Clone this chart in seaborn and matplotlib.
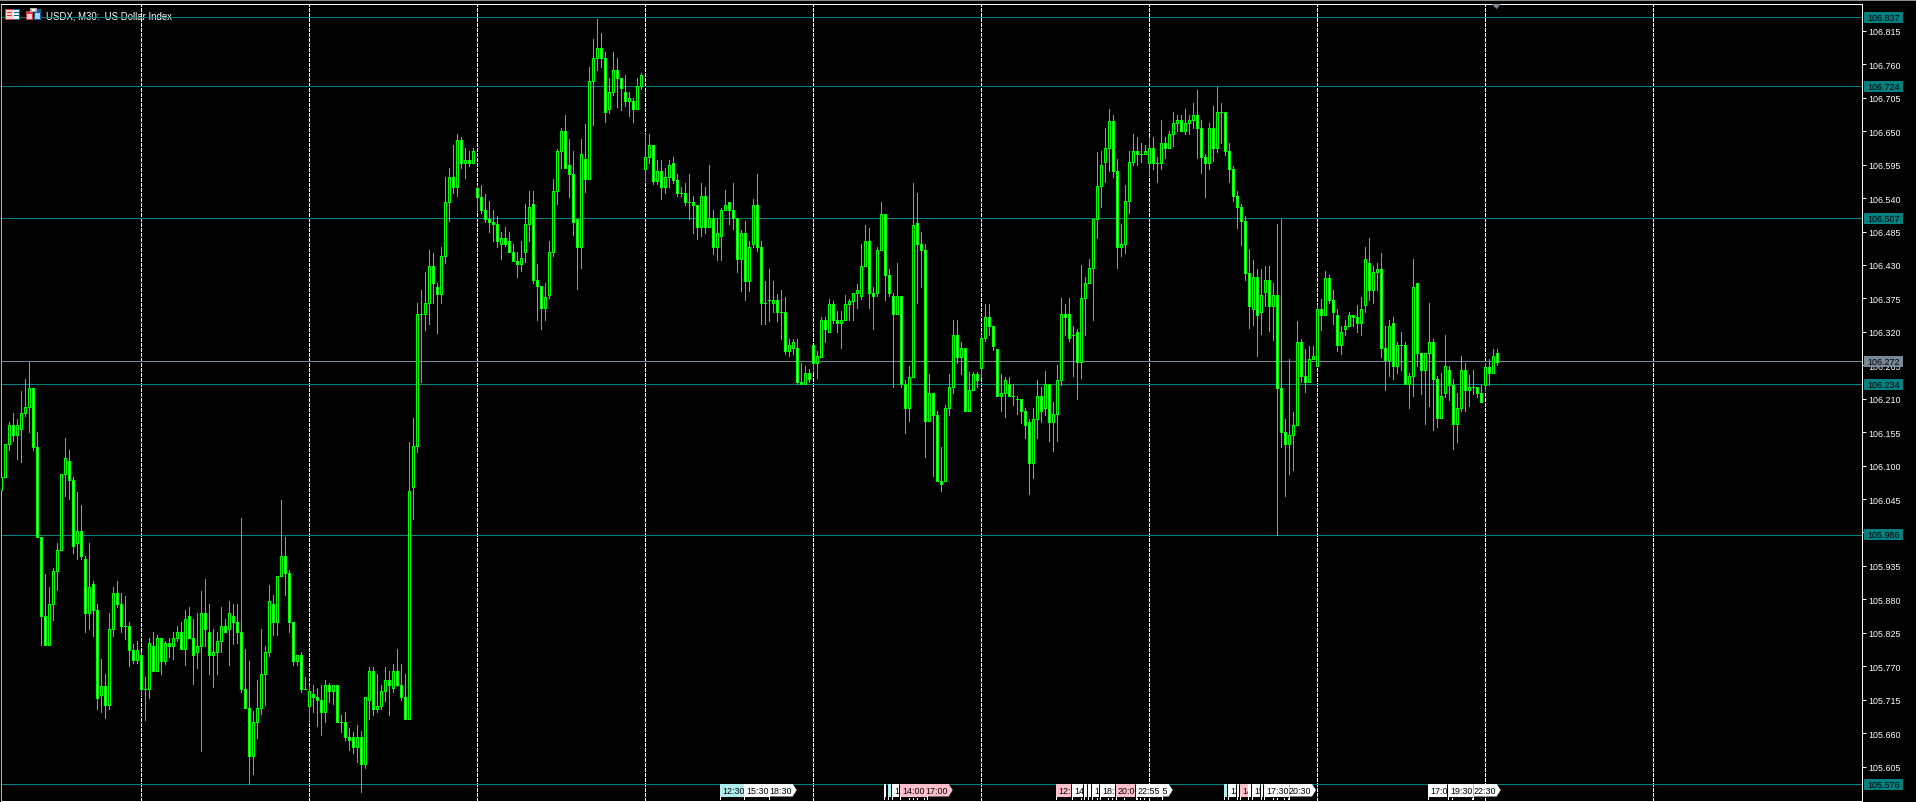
import numpy as np
import pandas as pd
import matplotlib
matplotlib.use('Agg')
import matplotlib.pyplot as plt
from matplotlib.patches import Polygon, Rectangle
from matplotlib.transforms import Affine2D, Bbox
import seaborn as sns

# USDX M30 candles
open_prices = [
    106.060,106.082,106.136,106.166,106.151,106.161,106.187,106.197,106.227,106.131,
    105.982,105.852,105.805,105.872,105.926,105.962,106.087,106.107,106.077,105.972,
    105.992,105.947,105.857,105.906,105.862,105.722,105.737,105.707,105.832,105.891,
    105.872,105.837,105.837,105.796,105.781,105.788,105.732,105.732,105.803,105.763,
    105.817,105.778,105.808,105.803,105.817,105.827,105.798,105.852,105.817,105.793,
    105.803,105.857,105.827,105.788,105.793,105.812,105.837,105.832,105.852,105.842,
    105.827,105.732,105.702,105.622,105.678,105.702,105.758,105.793,105.873,105.842,
    105.918,105.952,105.923,105.842,105.778,105.788,105.732,105.704,105.724,105.719,
    105.714,105.694,105.739,105.729,105.739,105.678,105.678,105.653,105.653,105.638,
    105.653,105.609,105.714,105.763,105.699,105.704,105.729,105.748,105.734,105.763,
    105.739,105.719,105.684,106.064,106.133,106.349,106.349,106.368,106.429,106.393,
    106.383,106.444,106.534,106.574,106.559,106.635,106.598,106.603,106.598,106.556,
    106.541,106.521,106.506,106.501,106.497,106.465,106.475,106.470,106.451,106.436,
    106.431,106.451,106.497,106.531,106.406,106.396,106.360,106.381,106.451,106.551,
    106.617,106.651,106.595,106.580,106.506,106.460,106.605,106.571,106.732,106.771,
    106.786,106.771,106.686,106.715,106.751,106.737,106.715,106.700,106.700,106.686,
    106.725,106.588,106.608,106.628,106.568,106.584,106.559,106.574,106.598,106.569,
    106.549,106.549,106.534,106.534,106.529,106.493,106.544,106.493,106.508,106.459,
    106.478,106.520,106.534,106.520,106.508,106.439,106.483,106.404,106.464,106.529,
    106.459,106.368,106.373,106.368,106.373,106.353,106.353,106.289,106.294,106.294,
    106.238,106.234,106.253,106.299,106.269,106.279,106.340,106.319,106.365,106.340,
    106.335,106.340,106.365,106.370,106.384,106.379,106.429,106.470,106.384,106.384,
    106.455,106.514,106.414,106.379,106.350,106.379,106.235,106.194,106.245,106.499,
    106.465,106.455,106.174,106.220,106.184,106.074,106.074,106.194,106.230,106.314,
    106.279,106.294,106.189,106.225,106.250,106.261,106.310,106.345,106.330,106.291,
    106.215,106.220,106.235,106.215,106.210,106.210,106.190,106.171,106.105,106.176,
    106.215,106.195,106.235,106.171,106.185,106.240,106.350,106.350,106.315,106.320,
    106.271,106.376,106.401,106.425,106.505,106.560,106.600,106.622,106.666,106.585,
    106.460,106.465,106.536,106.600,106.617,106.612,106.612,106.597,106.622,106.597,
    106.597,106.631,106.622,106.646,106.663,106.668,106.651,106.663,106.668,106.677,
    106.656,106.607,106.597,106.656,106.622,106.682,106.682,106.617,106.587,106.543,
    106.526,106.502,106.416,106.357,106.411,106.352,106.386,106.406,106.362,106.381,
    106.227,106.156,106.136,106.151,106.166,106.303,106.247,106.237,106.276,106.263,
    106.358,106.348,106.409,106.373,106.348,106.299,106.324,106.329,106.348,106.344,
    106.334,106.364,106.434,106.388,106.419,106.424,106.294,106.273,106.334,106.263,
    106.299,106.299,106.235,106.248,106.400,106.285,106.258,106.285,106.304,106.243,
    106.179,106.219,106.258,106.233,106.169,106.194,106.258,106.224,106.229,106.229,
    106.219,106.232,106.262,106.252,106.286,
]
close_prices = [
    106.082,106.136,106.166,106.151,106.166,106.187,106.197,106.227,106.131,105.982,
    105.852,105.805,105.872,105.926,105.962,106.087,106.112,106.077,105.967,105.992,
    105.952,105.857,105.901,105.862,105.717,105.737,105.707,105.832,105.891,105.872,
    105.837,105.837,105.796,105.781,105.796,105.732,105.732,105.808,105.763,105.817,
    105.778,105.808,105.803,105.817,105.827,105.798,105.847,105.817,105.788,105.803,
    105.857,105.832,105.788,105.793,105.812,105.837,105.827,105.857,105.842,105.827,
    105.732,105.702,105.622,105.678,105.702,105.758,105.793,105.878,105.842,105.918,
    105.952,105.923,105.842,105.778,105.788,105.732,105.732,105.729,105.719,105.714,
    105.694,105.739,105.729,105.739,105.678,105.678,105.653,105.648,105.638,105.653,
    105.609,105.719,105.763,105.699,105.704,105.729,105.748,105.739,105.763,105.739,
    105.719,105.684,106.059,106.133,106.349,106.349,106.368,106.429,106.400,106.383,
    106.444,106.534,106.574,106.559,106.635,106.598,106.603,106.598,106.618,106.541,
    106.521,106.506,106.501,106.497,106.470,106.475,106.465,106.451,106.436,106.431,
    106.441,106.497,106.526,106.406,106.396,106.360,106.377,106.451,106.551,106.617,
    106.651,106.590,106.580,106.501,106.460,106.612,106.571,106.732,106.771,106.786,
    106.771,106.681,106.715,106.751,106.737,106.721,106.700,106.705,106.686,106.725,
    106.742,106.608,106.628,106.568,106.584,106.559,106.574,106.594,106.569,106.549,
    106.549,106.534,106.534,106.529,106.493,106.544,106.493,106.508,106.459,106.483,
    106.520,106.529,106.520,106.508,106.439,106.483,106.404,106.459,106.529,106.459,
    106.368,106.368,106.373,106.373,106.353,106.353,106.289,106.299,106.304,106.238,
    106.234,106.253,106.243,106.269,106.280,106.340,106.325,106.365,106.340,106.335,
    106.340,106.365,106.370,106.384,106.389,106.429,106.470,106.384,106.379,106.455,
    106.514,106.414,106.384,106.350,106.379,106.235,106.194,106.245,106.495,106.465,
    106.455,106.174,106.220,106.184,106.074,106.069,106.194,106.230,106.314,106.279,
    106.294,106.189,106.225,106.250,106.240,106.310,106.345,106.330,106.296,106.215,
    106.220,106.240,106.215,106.215,106.210,106.190,106.166,106.105,106.176,106.215,
    106.190,106.235,106.171,106.185,106.240,106.350,106.345,106.310,106.315,106.271,
    106.376,106.401,106.425,106.505,106.560,106.595,106.622,106.666,106.585,106.460,
    106.465,106.536,106.600,106.617,106.612,106.612,106.617,106.622,106.597,106.597,
    106.631,106.622,106.646,106.663,106.668,106.651,106.663,106.668,106.677,106.656,
    106.607,106.597,106.656,106.622,106.682,106.682,106.617,106.587,106.543,106.526,
    106.502,106.416,106.362,106.411,106.347,106.381,106.406,106.362,106.381,106.227,
    106.156,106.136,106.151,106.166,106.303,106.247,106.237,106.276,106.281,106.358,
    106.348,106.409,106.373,106.353,106.299,106.319,106.329,106.348,106.344,106.334,
    106.358,106.439,106.388,106.419,106.424,106.294,106.273,106.329,106.263,106.299,
    106.299,106.235,106.248,106.393,106.285,106.258,106.285,106.304,106.243,106.179,
    106.214,106.263,106.233,106.169,106.194,106.258,106.224,106.229,106.229,106.219,
    106.204,106.262,106.252,106.281,106.271,
]
high_prices = [
    106.082,106.136,106.171,106.187,106.176,106.222,106.242,106.271,106.227,106.156,
    105.982,105.922,105.901,105.931,105.973,106.087,106.146,106.126,106.082,106.056,
    106.036,105.952,105.972,105.911,105.872,105.782,105.757,105.857,105.901,105.911,
    105.891,105.886,105.842,105.806,105.811,105.793,105.753,105.817,105.827,105.822,
    105.817,105.812,105.817,105.827,105.837,105.842,105.862,105.867,105.847,105.857,
    105.894,105.913,105.873,105.832,105.827,105.867,105.847,105.878,105.873,105.873,
    106.013,105.798,105.779,105.697,105.747,105.832,105.803,105.903,105.888,105.918,
    106.043,105.982,105.928,105.842,105.788,105.793,105.753,105.739,105.739,105.734,
    105.739,105.748,105.743,105.739,105.739,105.690,105.694,105.668,105.662,105.673,
    105.663,105.719,105.768,105.768,105.758,105.739,105.768,105.763,105.773,105.798,
    105.773,105.758,106.138,106.179,106.368,106.388,106.419,106.454,106.449,106.400,
    106.459,106.574,106.589,106.628,106.645,106.640,106.623,106.618,106.623,106.561,
    106.561,106.546,106.536,106.521,106.511,106.485,106.492,106.485,106.465,106.451,
    106.470,106.531,106.551,106.551,106.431,106.396,106.401,106.470,106.571,106.621,
    106.656,106.676,106.637,106.617,106.506,106.637,106.661,106.756,106.801,106.835,
    106.811,106.781,106.737,106.781,106.771,106.737,106.742,106.715,106.705,106.737,
    106.746,106.645,106.645,106.628,106.603,106.603,106.589,106.603,106.608,106.579,
    106.559,106.564,106.579,106.544,106.529,106.564,106.559,106.594,106.520,106.508,
    106.524,106.554,106.534,106.564,106.508,106.488,106.503,106.469,106.539,106.579,
    106.469,106.404,106.424,106.404,106.383,106.388,106.378,106.308,106.309,106.309,
    106.269,106.263,106.259,106.299,106.289,106.345,106.345,106.374,106.370,106.355,
    106.355,106.380,106.374,106.384,106.399,106.465,106.495,106.490,106.394,106.460,
    106.534,106.514,106.424,106.384,106.434,106.379,106.240,106.264,106.565,106.549,
    106.485,106.465,106.250,106.220,106.189,106.130,106.199,106.250,106.340,106.340,
    106.304,106.294,106.254,106.254,106.254,106.315,106.365,106.365,106.330,106.291,
    106.250,106.245,106.245,106.235,106.215,106.210,106.195,106.176,106.195,106.240,
    106.230,106.256,106.235,106.205,106.266,106.376,106.365,106.376,106.330,106.325,
    106.430,106.411,106.440,106.505,106.616,106.617,106.656,106.686,106.676,106.605,
    106.497,106.561,106.617,106.646,106.641,106.631,106.627,106.641,106.641,106.607,
    106.668,106.641,106.651,106.682,106.677,106.677,106.687,106.677,106.697,106.717,
    106.668,106.612,106.663,106.692,106.722,106.697,106.682,106.631,106.592,106.552,
    106.531,106.511,106.457,106.438,106.423,106.423,106.428,106.428,106.401,106.497,
    106.505,106.176,106.276,106.188,106.337,106.308,106.292,106.297,106.297,106.364,
    106.374,106.420,106.414,106.388,106.358,106.329,106.339,106.353,106.348,106.364,
    106.378,106.459,106.474,106.429,106.434,106.449,106.329,106.339,106.344,106.304,
    106.319,106.304,106.253,106.439,106.400,106.285,106.285,106.368,106.309,106.248,
    106.253,106.314,106.263,106.243,106.219,106.280,106.269,106.249,106.258,106.229,
    106.234,106.268,106.276,106.291,106.291,
]
low_prices = [
    106.060,106.082,106.126,106.141,106.111,106.106,106.181,106.156,106.126,105.982,
    105.805,105.805,105.805,105.846,105.896,105.962,106.050,106.045,105.957,105.947,
    105.947,105.827,105.832,105.820,105.700,105.695,105.685,105.700,105.820,105.867,
    105.827,105.815,105.771,105.776,105.776,105.722,105.682,105.717,105.763,105.763,
    105.757,105.773,105.786,105.782,105.812,105.798,105.772,105.817,105.741,105.767,
    105.631,105.803,105.757,105.736,105.757,105.793,105.827,105.772,105.806,105.808,
    105.728,105.702,105.576,105.592,105.652,105.692,105.707,105.787,105.822,105.822,
    105.918,105.888,105.827,105.772,105.772,105.727,105.732,105.682,105.694,105.672,
    105.657,105.678,105.712,105.708,105.678,105.662,105.648,105.633,105.628,105.613,
    105.564,105.603,105.683,105.689,105.694,105.699,105.713,105.689,105.727,105.738,
    105.714,105.684,105.684,106.012,106.123,106.238,106.323,106.333,106.368,106.318,
    106.368,106.434,106.503,106.549,106.544,106.589,106.573,106.593,106.598,106.521,
    106.516,106.501,106.485,106.470,106.460,106.440,106.461,106.451,106.436,106.411,
    106.420,106.435,106.470,106.401,106.339,106.324,106.339,106.376,106.445,106.531,
    106.590,106.590,106.541,106.480,106.391,106.425,106.550,106.571,106.660,106.751,
    106.756,106.665,106.680,106.710,106.690,106.685,106.691,106.675,106.665,106.686,
    106.720,106.568,106.598,106.563,106.563,106.539,106.549,106.559,106.564,106.544,
    106.544,106.529,106.506,106.482,106.473,106.478,106.483,106.493,106.448,106.438,
    106.438,106.520,106.497,106.489,106.419,106.387,106.373,106.387,106.459,106.453,
    106.333,106.333,106.338,106.353,106.338,106.308,106.284,106.280,106.284,106.234,
    106.234,106.234,106.238,106.254,106.244,106.279,106.303,106.319,106.334,106.319,
    106.293,106.340,106.339,106.339,106.359,106.374,106.429,106.359,106.324,106.379,
    106.455,106.373,106.379,106.230,106.350,106.230,106.153,106.173,106.245,106.368,
    106.393,106.114,106.174,106.083,106.074,106.059,106.074,106.184,106.220,106.269,
    106.250,106.189,106.189,106.225,106.230,106.245,106.305,106.314,106.290,106.215,
    106.190,106.180,106.215,106.200,106.185,106.170,106.145,106.054,106.080,106.145,
    106.171,106.184,106.140,106.124,106.140,106.233,106.314,106.305,106.248,106.210,
    106.244,106.314,106.401,106.339,106.474,106.526,106.566,106.584,106.575,106.425,
    106.445,106.449,106.515,106.595,106.595,106.600,106.612,106.577,106.587,106.567,
    106.587,106.606,106.622,106.626,106.651,106.651,106.646,106.646,106.656,106.606,
    106.582,106.542,106.587,106.601,106.616,106.630,106.611,106.567,106.535,106.491,
    106.462,106.406,106.327,106.332,106.281,106.317,106.362,106.322,106.307,105.986,
    106.131,106.050,106.087,106.092,106.166,106.237,106.221,106.237,106.276,106.263,
    106.323,106.348,106.368,106.333,106.289,106.284,106.314,106.329,106.329,106.319,
    106.314,106.353,106.373,106.368,106.388,106.279,106.224,106.248,106.242,106.253,
    106.258,106.235,106.194,106.214,106.263,106.218,106.169,106.198,106.159,106.164,
    106.179,106.213,106.208,106.128,106.138,106.189,106.189,106.198,106.218,106.213,
    106.204,106.222,106.232,106.252,106.266,
]

# price axis and drawn levels
tick_values = [106.815, 106.760, 106.705, 106.650, 106.595, 106.540, 106.485, 106.430,
               106.375, 106.320, 106.265, 106.210, 106.155, 106.100, 106.045, 105.990,
               105.935, 105.880, 105.825, 105.770, 105.715, 105.660, 105.605]
level_values = [106.837, 106.724, 106.507, 106.234, 105.986, 105.576]
last_price = 106.272
period_bars = [35, 77, 119, 161, 203, 245, 287, 329, 371, 413]

# time tags along the bottom edge
tab_starts = [720, 744, 769, 884, 888.3, 892.3, 900, 926.7, 1056, 1072.3, 1084.3, 1088.3,
              1092.3, 1100, 1116, 1136, 1161.7, 1224, 1228.3, 1236.7, 1240.3, 1248.3,
              1252.3, 1260.7, 1264, 1289.3, 1428.3, 1448.3, 1473.3]
tab_ends = [744, 769, 796.7, 886, 891, 899.3, 926.7, 952.7, 1071, 1083.3, 1087, 1091,
            1099, 1115, 1135, 1161.7, 1172.7, 1226.7, 1236, 1239.3, 1247.7, 1251,
            1260, 1263.3, 1289.3, 1316, 1447.3, 1473.3, 1500.7]
tab_labels = ['12:30', '15:30', '18:30', '', '', '12:30', '14:00', '17:00', '12:30', '14:30',
              '', '', '16:00', '18:30', '20:00', '22:55', '23:55', '', '13:00', '', '14:30', '',
              '15:30', '', '17:30', '20:30', '17:00', '19:30', '22:30']
tab_colors = ['#afeeee', 'white', 'white', 'white', '#afeeee', 'white', '#ffc0cb', '#ffc0cb',
              '#ffc0cb', 'white', 'white', 'white', 'white', 'white', '#ffc0cb', 'white', 'white',
              '#afeeee', 'white', 'white', '#ffc0cb', 'white', 'white', 'white', 'white', 'white',
              'white', 'white', 'white']
arrow_tabs = [2, 7, 16, 25, 28]
minor_marks = [769, 909, 912.7, 916.7, 924.3, 1080.7, 1096.7, 1108, 1112, 1124, 1136.7, 1140,
               1144, 1273.3, 1276.7, 1284.3, 1288.3, 1452.3, 1472.3]

W, H = 1916, 803
GREEN = '#00ff00'
TEAL = '#008080'
SLATE = '#778899'
FONT = 'Liberation Sans'

sns.set_theme(style='dark', rc={
    'axes.facecolor': 'black',
    'figure.facecolor': 'black',
    'lines.solid_capstyle': 'butt',
    'lines.dash_capstyle': 'butt',
    'lines.scale_dashes': False,
})
plt.rcParams['font.family'] = [FONT, 'DejaVu Sans']

fig = plt.figure(figsize=(W / 100, H / 100), dpi=100)
ax = fig.add_axes([0.5 / W, 1 - 801.5 / H, 1861 / W, 797 / H])

# screen pixels, y down, for the terminal's own furniture
px = Affine2D().scale(1, -1).translate(0, H)

bars = np.arange(len(open_prices))
df = pd.DataFrame({'bar': bars, 'open': open_prices, 'high': high_prices,
                   'low': low_prices, 'close': close_prices})
wicks = df.melt(id_vars='bar', value_vars=['low', 'high'], value_name='price')

ax.text(46.5, 20, 'USDX, M30:  US Dollar Index', transform=px, color='white',
        fontsize=6.9, va='baseline', ha='left', zorder=1)

for bar in period_bars:
    ax.axvline(bar, color='white', lw=0.72, ls=(0, (2.16, 1.44)), zorder=1.5, antialiased=False)
for level in level_values:
    ax.axhline(level, color=TEAL, lw=0.72, zorder=2, antialiased=False)
ax.axhline(last_price, color=SLATE, lw=0.72, zorder=2, antialiased=False)

# wicks
sns.lineplot(data=wicks, x='bar', y='price', units='bar', estimator=None, sort=False,
             errorbar=None, color=GREEN, lw=0.72, antialiased=False, legend=False,
             zorder=3, ax=ax)

# bodies: white for falling bars, hollow for rising ones
body_low = df[['open', 'close']].min(axis=1)
body_size = (df['close'] - df['open']).abs()
body_fill = np.where(df['close'] < df['open'], 'white', 'black')
ax.bar(df['bar'], body_size, bottom=body_low, width=0.5, color=body_fill.tolist(),
       edgecolor=GREEN, linewidth=0.72, antialiased=False, zorder=4)

ax.set_xlim(0, 465.25)
ax.set_ylim(105.5492, 106.860)
ax.set_xlabel('')
ax.set_ylabel('')
ax.set_xticks([])
ax.yaxis.tick_right()
ax.set_yticks(tick_values)
ax.set_yticklabels([f'{v:.3f}' for v in tick_values], fontfamily=FONT)
ax.tick_params(axis='y', length=3, width=0.72, colors='white', pad=1.6, labelsize=6.4)
for spine in ax.spines.values():
    spine.set_color('white')
    spine.set_linewidth(0.72)
ax.spines['left'].set_color('#b0b0b0')

# price tags over the axis
tag_px = ax.transData.transform
for level, fill in [(v, TEAL) for v in level_values] + [(last_price, SLATE)]:
    y = H - ax.transData.transform((0, level))[1]
    fig.add_artist(Rectangle((1864, y - 5.5), 39, 11, transform=px, fc=fill, ec='none', zorder=5))
    fig.text(1867.3, y, f'{level:.3f}', transform=px, color='black', fontsize=6.4,
             va='center', ha='left', zorder=6)

# time tags
for i, (x0, x1, label, fill) in enumerate(zip(tab_starts, tab_ends, tab_labels, tab_colors)):
    if i in arrow_tabs:
        outline = [(x0, 785), (x1 - 4, 785), (x1, 791), (x1 - 4, 797.5), (x0, 797.5)]
    else:
        outline = [(x0, 785), (x1, 785), (x1, 797.5), (x0, 797.5)]
    fig.add_artist(Polygon(outline, transform=px, fc=fill, ec='none', zorder=5))
    fig.add_artist(Rectangle((x0, 797), 1, 4, transform=px, fc='white', ec='none', zorder=5))
    if label:
        start = x1 - 27 if i in arrow_tabs else x0 + 2
        t = fig.text(start, 791.3, label, transform=px, color='black', fontsize=6.4,
                     va='center', ha='left', zorder=6)
        t.set_clip_box(Bbox([[x0, H - 797.5], [x1, H - 785]]))
        t.set_clip_on(True)
for x in minor_marks:
    fig.add_artist(Rectangle((x, 798.5), 1, 2.5, transform=px, fc='white', ec='none', zorder=5))

# window strip and last-bar marker
fig.add_artist(Rectangle((0, 0), W, 2, transform=px, fc='#8c8c8c', ec='none', zorder=5))
fig.add_artist(Polygon([(1491.7, 5), (1501, 5), (1496.5, 10)], transform=px, fc=SLATE, ec='none', zorder=5))

# one-click trading and chart icons beside the title
icon_parts = [
    (5, 10, 15, 11, '#d43c3c', 'none'), (6, 11, 7, 9, '#ffd0d0', 'none'), (13, 11, 6, 9, '#e8f2fb', 'none'),
    (5, 10, 1, 11, '#d43c3c', 'none'), (12.5, 10, 7.5, 1, '#0c64a8', 'none'), (19, 10, 1, 11, '#0c64a8', 'none'),
    (12.5, 20, 7.5, 1, '#0c64a8', 'none'), (7, 13, 5, 1, '#d43c3c', 'none'), (7, 16, 5, 1, '#d43c3c', 'none'),
    (14, 13, 5, 1, '#0c64a8', 'none'), (14, 16, 5, 1, '#0c64a8', 'none'),
    (26, 12, 7, 9, '#d43c3c', 'none'), (27, 15, 5, 5, '#ffd0d0', 'none'), (34, 10, 7, 11, '#0c64a8', 'none'),
    (35, 14, 5, 6, '#a8d4f4', 'none'), (30, 9, 7, 4, '#b0b0b0', 'none'), (32, 10, 3, 2, 'white', 'none'),
]
for x, y, w, h, fc, ec in icon_parts:
    fig.add_artist(Rectangle((x, y), w, h, transform=px, fc=fc, ec=ec, zorder=5))

fig.savefig('out.png', dpi=100, facecolor='black')
